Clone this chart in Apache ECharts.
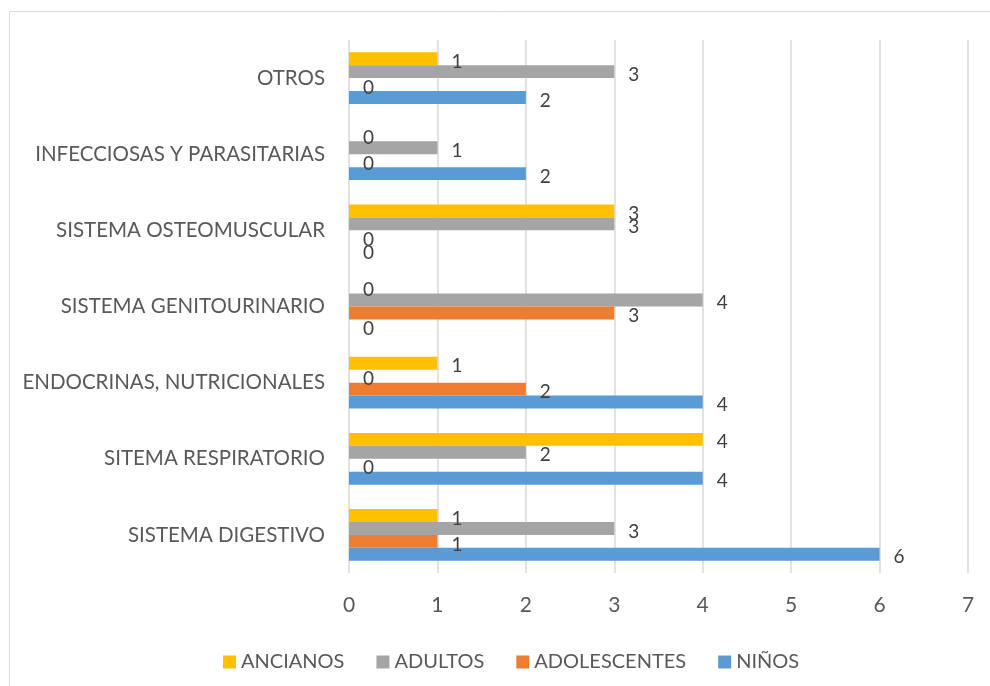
<!DOCTYPE html>
<html>
<head>
<meta charset="utf-8">
<script src="https://cdn.jsdelivr.net/npm/echarts@6/dist/echarts.min.js"></script>
<style>
  html, body { margin: 0; padding: 0; background: #fff; }
  #chart { width: 990px; height: 686px; }
</style>
</head>
<body>
<div id="chart"></div>
<script>
// categories bottom -> top
const categories = [
  'SISTEMA DIGESTIVO',
  'SITEMA RESPIRATORIO',
  'ENDOCRINAS, NUTRICIONALES',
  'SISTEMA GENITOURINARIO',
  'SISTEMA OSTEOMUSCULAR',
  'INFECCIOSAS Y PARASITARIAS',
  'OTROS',
];
const ninos = [6, 4, 4, 0, 0, 2, 2];
const adolescentes = [1, 0, 2, 3, 0, 0, 0];
const adultos = [3, 2, 0, 4, 3, 1, 3];
const ancianos = [1, 4, 1, 0, 3, 0, 1];
const xTicks = [0, 7, 1]; // min, max, interval

const FONT = 'Lato';
const TXT = '#595959';

function barSeries(name, data, color) {
  return {
    name: name,
    type: 'bar',
    data: data,
    barGap: '0%',
    barCategoryGap: '32%',
    itemStyle: { color: color },
    label: {
      show: true,
      position: 'right',
      distance: 14,
      offset: [0, 3],
      color: '#404040',
      fontFamily: FONT,
      fontSize: 19,
    },
  };
}

const chart = echarts.init(document.getElementById('chart'));
chart.setOption({
  backgroundColor: '#fff',
  animation: false,
  graphic: [
    {
      type: 'rect',
      shape: { x: 9.5, y: 11.5, width: 1000, height: 700 },
      style: { fill: 'none', stroke: '#d9d9d9', lineWidth: 1 },
    },
  ],
  grid: {
    left: 349,
    right: 22,
    top: 40,
    bottom: 113,
  },
  legend: {
    data: ['ANCIANOS', 'ADULTOS', 'ADOLESCENTES', 'NIÑOS'],
    left: 218,
    top: 647,
    itemWidth: 13,
    itemHeight: 13,
    itemGap: 32,
    icon: 'rect',
    textStyle: { color: TXT, fontFamily: FONT, fontSize: 20 },
  },
  xAxis: {
    type: 'value',
    min: xTicks[0],
    max: xTicks[1],
    interval: xTicks[2],
    axisLine: { show: false },
    axisTick: { show: false },
    splitLine: { lineStyle: { color: '#d9d9d9', width: 1.5 } },
    axisLabel: { color: TXT, fontFamily: FONT, fontSize: 21, margin: 22 },
  },
  yAxis: {
    type: 'category',
    data: categories,
    axisLine: { show: false },
    axisTick: { show: false },
    axisLabel: { color: TXT, fontFamily: FONT, fontSize: 20.5, margin: 24 },
  },
  series: [
    barSeries('ANCIANOS', ancianos, '#FFC000'),
    barSeries('ADULTOS', adultos, '#A5A5A5'),
    barSeries('ADOLESCENTES', adolescentes, '#ED7D31'),
    barSeries('NIÑOS', ninos, '#5B9BD5'),
  ],
});
</script>
</body>
</html>
